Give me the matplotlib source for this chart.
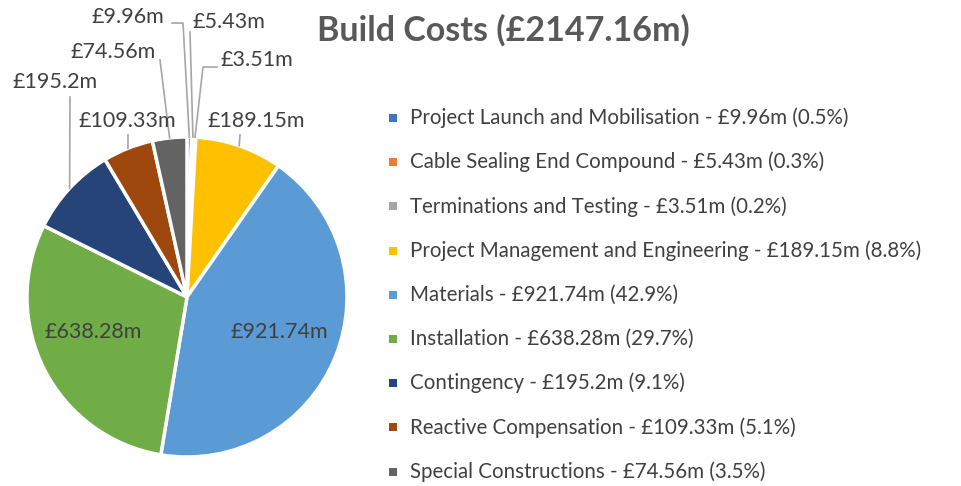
import numpy as np
import matplotlib.pyplot as plt

plt.rcParams['font.family'] = ['Lato', 'DejaVu Sans']

categories = ["Project Launch and Mobilisation", "Cable Sealing End Compound",
              "Terminations and Testing", "Project Management and Engineering",
              "Materials", "Installation", "Contingency",
              "Reactive Compensation", "Special Constructions"]
costs = [9.96, 5.43, 3.51, 189.15, 921.74, 638.28, 195.2, 109.33, 74.56]
percents = [0.5, 0.3, 0.2, 8.8, 42.9, 29.7, 9.1, 5.1, 3.5]
colors = ["#4472C4", "#ED7D31", "#A5A5A5", "#FFC000", "#5B9BD5",
          "#70AD47", "#264478", "#9E480E", "#636363"]
total = 2147.16

W, H = 962, 486
TXT = "#404040"

fig = plt.figure(figsize=(W / 100, H / 100), dpi=100)
ax = fig.add_axes([0, 0, 1, 1])

# everything below is laid out in pixel coordinates, y measured from the top
def py(y):
    return H - y

cx, cy, R = 187, 297, 160
ax.pie(costs, colors=colors, startangle=90, counterclock=False,
       center=(cx, py(cy)), radius=R,
       wedgeprops=dict(edgecolor="white", linewidth=2.5))

# mid angle of each slice, clockwise from 12 o'clock
frac = np.array(costs) / sum(costs)
mids = (np.cumsum(frac) - frac / 2) * 2 * np.pi

def rim(i, r=R):
    a = mids[i]
    return cx + r * np.sin(a), cy - r * np.cos(a)

# label position and leader elbows for each slice (no leader = inside the pie)
label_pos = [(128, 17), (229, 22), (257, 60), (256, 121), (279, 332),
             (93, 332), (55, 82), (127, 121), (113, 52)]
leader_start = [[(172, 23), (183, 23)], [(190, 32)], [(217, 67), (203, 67)],
                [(240, 135)], None, None, [(70, 97)], [(128, 135)], [(160, 60)]]

for i, v in enumerate(costs):
    x, y = label_pos[i]
    ax.text(x, py(y), f"£{v:g}m", ha="center", va="center",
            fontsize=15.5, color=TXT)
    if leader_start[i] is None:
        continue
    pts = leader_start[i] + [rim(i)]
    ax.plot([p[0] for p in pts], [py(p[1]) for p in pts], color="#A6A6A6", lw=1.2)

ax.text(503, py(30), f"Build Costs (£{total:.2f}m)", ha="center", va="center",
        fontsize=24.5, fontweight="bold", color="#595959")

# legend
for i, name in enumerate(categories):
    y = 118 + i * 44.2
    ax.scatter([393], [py(y)], marker="s", s=30, color=colors[i], linewidths=0)
    ax.text(410, py(y), f"{name} - £{costs[i]:g}m ({percents[i]}%)",
            ha="left", va="center", fontsize=14.8, color=TXT)

ax.set_xlim(0, W)
ax.set_ylim(0, H)
ax.set_aspect("equal")
ax.axis("off")

fig.savefig("out.png", dpi=100, facecolor="white")
